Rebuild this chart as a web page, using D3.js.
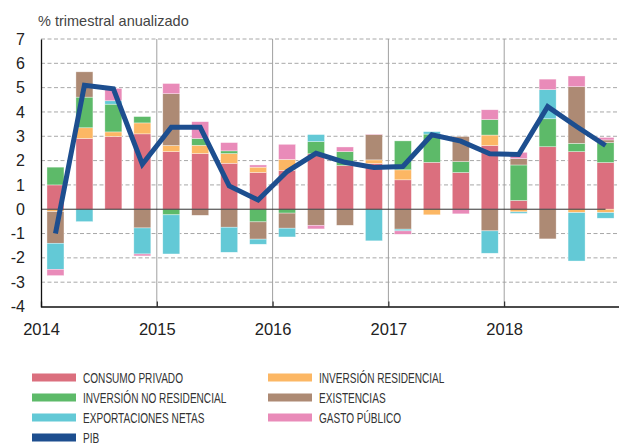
<!DOCTYPE html>
<html>
<head>
<meta charset="utf-8">
<script src="https://cdn.jsdelivr.net/npm/d3@7"></script>
<style>
  body { margin: 0; background: #fff; }
  svg { display: block; font-family: "Liberation Sans", Arial, sans-serif; }
</style>
</head>
<body>
<svg id="chart" width="619" height="444"></svg>
<script>
// quarters 2014Q1 .. 2018Q4
var quarters = d3.range(20).map(function (i) { return 2014 + (i + 0.5) / 4; });
var years = [2014, 2015, 2016, 2017, 2018];
var yTicks = [7, 6, 5, 4, 3, 2, 1, 0, -1, -2, -3, -4];

var consumo     = [1.0, 2.91, 2.99, 3.1, 2.37, 2.29, 1.89, 1.51, 1.6, 2.28, 1.8, 1.88, 1.21, 1.93, 1.51, 2.62, 0.36, 2.57, 2.37, 1.92];
var residencial = [-0.1, 0.44, 0.19, 0.45, 0.25, 0.34, 0.4, 0.22, 0.45, 0, 0, 0.15, 0.41, -0.23, 0, 0.43, -0.11, 0, -0.14, -0.14];
var noResid     = [0.73, 1.26, 1.14, 0.26, -0.23, 0.28, 0.11, -0.52, -0.16, 0.5, 0.57, 0, 1.19, 1.16, 0.45, 0.64, 1.46, 1.15, 0.34, 0.82];
var existencias = [-1.3, 1.04, 0, -0.77, 2.13, -0.25, -0.74, -0.71, -0.62, -0.66, -0.66, 1.04, -0.82, 0, 1.03, -0.89, 0.26, -1.22, 2.33, 0.11];
var exportNetas = [-1.07, -0.51, 0.14, -1.07, -1.61, 0, -1.03, -0.21, -0.36, 0.29, 0, -1.3, -0.07, 0.1, 0, -0.92, -0.06, 1.2, -1.99, -0.23];
var gasto       = [-0.26, 0, 0.51, -0.08, 0.42, 0.69, 0.34, 0.09, 0.62, -0.15, 0.19, 0.02, -0.14, 0, -0.19, 0.4, 0.26, 0.43, 0.44, 0.1];
var pib         = [-1.0, 5.1, 4.95, 1.85, 3.37, 3.37, 0.96, 0.38, 1.55, 2.3, 1.93, 1.72, 1.76, 3.06, 2.8, 2.28, 2.25, 4.22, 3.4, 2.62];

var series = [
    {key: "consumo", label: "CONSUMO PRIVADO", color: "#db6f7e", values: consumo},
    {key: "residencial", label: "INVERSIÓN RESIDENCIAL", color: "#fcb764", values: residencial},
    {key: "noResid", label: "INVERSIÓN NO RESIDENCIAL", color: "#5dba69", values: noResid},
    {key: "existencias", label: "EXISTENCIAS", color: "#ad8a74", values: existencias},
    {key: "exportNetas", label: "EXPORTACIONES NETAS", color: "#63c9d6", values: exportNetas},
    {key: "gasto", label: "GASTO PÚBLICO", color: "#e98bb9", values: gasto}
];
var legendOrder = ["consumo", "residencial", "noResid", "existencias", "exportNetas", "gasto"];

var svg = d3.select("#chart");
var plotLeft = 41, plotRight = 620, plotTop = 39, plotBottom = 306.5;

var x = d3.scaleLinear().domain([2014, 2019]).range([plotLeft, plotRight]);
var y = d3.scaleLinear().domain([-4, 7]).range([plotBottom, plotTop]);
var barWidth = 17;

var table = quarters.map(function (q, i) {
    var row = {q: q};
    series.forEach(function (s) { row[s.key] = s.values[i]; });
    return row;
});
var stacked = d3.stack()
    .keys(series.map(function (s) { return s.key; }))
    .offset(d3.stackOffsetDiverging)(table);
var colorOf = {};
series.forEach(function (s) { colorOf[s.key] = s.color; });

// title
svg.append("text")
    .attr("x", 38).attr("y", 26)
    .attr("font-size", 14.5).attr("fill", "#444")
    .text("% trimestral anualizado");

// dashed gridlines
svg.append("g").selectAll("line")
    .data(yTicks.filter(function (d) { return d !== 0 && d !== -4; }))
    .enter().append("line")
    .attr("x1", plotLeft).attr("x2", 619)
    .attr("y1", function (d) { return y(d); })
    .attr("y2", function (d) { return y(d); })
    .attr("stroke", "#a8a8a8").attr("stroke-width", 1)
    .attr("stroke-dasharray", "4,2.5");

// year separators
svg.append("g").selectAll("line")
    .data(years.slice(1))
    .enter().append("line")
    .attr("x1", function (d) { return x(d); })
    .attr("x2", function (d) { return x(d); })
    .attr("y1", plotTop).attr("y2", plotBottom)
    .attr("stroke", "#a0a0a0").attr("stroke-width", 1);

// bars
svg.append("g").selectAll("g")
    .data(stacked)
    .enter().append("g")
    .attr("fill", function (d) { return colorOf[d.key]; })
    .selectAll("rect")
    .data(function (d) { return d.filter(function (p) { return p[1] !== p[0]; }); })
    .enter().append("rect")
    .attr("x", function (d) { return x(d.data.q) - barWidth / 2; })
    .attr("width", barWidth)
    .attr("y", function (d) { return y(Math.max(d[0], d[1])); })
    .attr("height", function (d) { return Math.abs(y(d[0]) - y(d[1])); })
    .attr("stroke", "#fff").attr("stroke-opacity", 0.6).attr("stroke-width", 0.6);

// zero line
svg.append("line")
    .attr("x1", plotLeft).attr("x2", x(quarters[19]))
    .attr("y1", y(0)).attr("y2", y(0))
    .attr("stroke", "#333").attr("stroke-width", 1);

// PIB line
var line = d3.line()
    .x(function (d, i) { return x(quarters[i]); })
    .y(function (d) { return y(d); });
svg.append("path")
    .datum(pib)
    .attr("d", line)
    .attr("fill", "none")
    .attr("stroke", "#1d4e8f")
    .attr("stroke-width", 5)
    .attr("stroke-linejoin", "miter");

// axes
var yAxis = svg.append("g")
    .attr("transform", "translate(" + plotLeft + ",0)")
    .call(d3.axisLeft(y).tickValues(yTicks).tickSize(0).tickPadding(16)
        .tickFormat(function (d) { return String(d); }));
yAxis.select(".domain").attr("stroke", "#111").attr("stroke-width", 1.3);
yAxis.selectAll("text").attr("font-size", 16).attr("fill", "#222")
    .attr("font-family", "Liberation Sans, Arial, sans-serif");

var xAxis = svg.append("g")
    .attr("transform", "translate(0," + plotBottom + ")")
    .call(d3.axisTop(x).tickValues(years.concat([2019])).tickSize(5)
        .tickFormat(function (d) { return d === 2019 ? "" : String(d); }));
xAxis.select(".domain").attr("stroke", "#111").attr("stroke-width", 1.3);
xAxis.selectAll(".tick line").attr("stroke", "#111");
xAxis.selectAll("text").attr("y", 28.5).attr("font-size", 16.5).attr("fill", "#222")
    .attr("font-family", "Liberation Sans, Arial, sans-serif");

// legend
var legendItems = legendOrder.map(function (k) {
    return series.filter(function (s) { return s.key === k; })[0];
}).concat([{key: "pib", label: "PIB", color: "#1d4e8f"}]);
var legendPos = [[32, 377.5], [268, 377.5], [32, 397.5], [268, 397.5], [32, 417.5], [268, 417.5], [32, 437.5]];
var legend = svg.append("g").selectAll("g")
    .data(legendItems)
    .enter().append("g")
    .attr("transform", function (d, i) { return "translate(" + legendPos[i][0] + "," + legendPos[i][1] + ")"; });
legend.append("rect")
    .attr("x", 0).attr("y", -4).attr("width", 44).attr("height", 8)
    .attr("fill", function (d) { return d.color; });
legend.append("text")
    .attr("transform", "translate(51,5) scale(0.72,1)")
    .attr("font-size", 14).attr("fill", "#333")
    .text(function (d) { return d.label; });
</script>
</body>
</html>
